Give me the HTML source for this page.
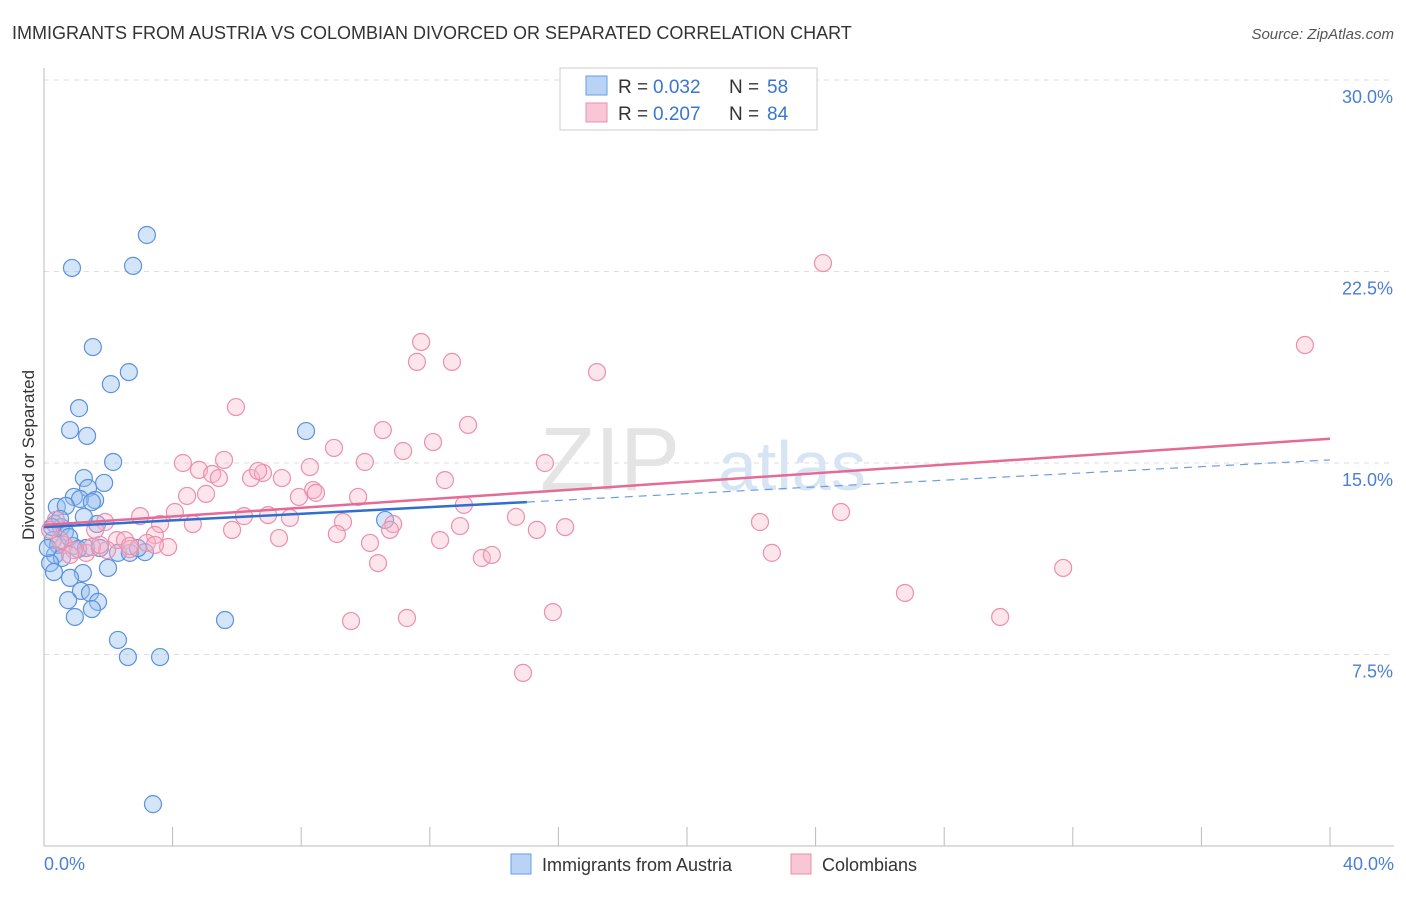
<!DOCTYPE html>
<html><head><meta charset="utf-8"><style>
body{margin:0;background:#fff;font-family:"Liberation Sans",sans-serif;}
svg text{font-family:"Liberation Sans",sans-serif;}
</style></head><body>
<svg width="1406" height="892">
<text x="12" y="39" font-size="18" fill="#333">IMMIGRANTS FROM AUSTRIA VS COLOMBIAN DIVORCED OR SEPARATED CORRELATION CHART</text>
<text x="1394" y="39" font-size="15" fill="#555" font-style="italic" text-anchor="end">Source: ZipAtlas.com</text>
<g id="grid"></g>
<text x="680" y="490" font-size="90" fill="#e4e4e4" font-family="Liberation Serif" text-anchor="end">ZIP</text>
<text x="718" y="490" font-size="70" fill="#d6e4f4">atlas</text>
<line x1="44" y1="68" x2="44" y2="846" stroke="#bbb"/>
<line x1="44" y1="846" x2="1394" y2="846" stroke="#bbb"/>
<text transform="translate(34,455) rotate(-90)" font-size="17" fill="#333" text-anchor="middle">Divorced or Separated</text>
<text x="44" y="870" font-size="18" fill="#4a7fd4">0.0%</text>
<text x="1394" y="870" font-size="18" fill="#4a7fd4" text-anchor="end">40.0%</text>
<g id="pts"></g>
<g id="lines"></g>
<rect x="560" y="68" width="257" height="62" fill="#fff" stroke="#ccc"/>
<rect x="586" y="76" width="21" height="19" fill="#b8d3f5" stroke="#6a9ee0"/>
<rect x="586" y="103" width="21" height="19" fill="#f9c6d6" stroke="#e890ac"/>
<g font-size="19">
<text x="618" y="93" fill="#333">R =</text><text x="653" y="93" fill="#3a76d0">0.032</text>
<text x="729" y="93" fill="#333">N =</text><text x="767" y="93" fill="#3a76d0">58</text></g>
<g font-size="19">
<text x="618" y="120" fill="#333">R =</text><text x="653" y="120" fill="#3a76d0">0.207</text>
<text x="729" y="120" fill="#333">N =</text><text x="767" y="120" fill="#3a76d0">84</text></g>
<rect x="511" y="854" width="20" height="20" fill="#b8d3f5" stroke="#6a9ee0"/>
<text x="542" y="871" font-size="18" fill="#333">Immigrants from Austria</text>
<rect x="791" y="854" width="20" height="20" fill="#f9c6d6" stroke="#e890ac"/>
<text x="822" y="871" font-size="18" fill="#333">Colombians</text>
</svg>
<script>
const yTicks=[7.5,15,22.5,30];
const yTickLabels=["7.5%","15.0%","22.5%","30.0%"];
const xTicks=[4,8,12,16,20,24,28,32,36,40];
const austriaPx=[[147,235],[72,268],[133,266],[93,347],[129,372],[111,384],[79,408],[70,430],[87,436],[306,431],[113,462],[84,478],[104,483],[88,488],[74,497],[80,499],[95,500],[92,502],[57,507],[66,506],[55,524],[61,527],[97,524],[84,517],[385,520],[65,532],[53,540],[58,545],[73,546],[86,548],[145,552],[118,553],[130,553],[138,548],[55,555],[62,558],[50,563],[54,572],[108,568],[83,573],[70,578],[81,591],[90,593],[68,600],[98,602],[92,609],[75,617],[225,620],[118,640],[128,657],[160,657],[153,804],[60,519],[52,527],[69,537],[78,549],[100,548],[48,548]];
const colPx=[[823,263],[1305,345],[421,342],[417,362],[452,362],[597,372],[236,407],[383,430],[468,425],[433,442],[403,451],[334,448],[183,463],[224,460],[199,470],[212,474],[219,478],[251,478],[263,473],[258,471],[282,478],[310,467],[545,463],[365,462],[445,480],[187,496],[206,494],[313,490],[299,497],[316,493],[358,497],[464,505],[140,516],[175,512],[244,516],[268,515],[290,518],[516,517],[760,522],[841,512],[193,524],[232,530],[343,522],[393,524],[460,526],[537,530],[565,527],[105,522],[160,524],[95,530],[279,538],[337,534],[390,530],[440,540],[370,543],[117,540],[125,540],[155,535],[147,543],[168,547],[130,549],[107,550],[86,553],[64,545],[74,550],[56,520],[92,547],[482,558],[492,555],[772,553],[378,563],[1063,568],[905,593],[553,612],[1000,617],[351,621],[407,618],[523,673],[130,546],[60,540],[100,545],[155,545],[50,530],[70,555]];
const toData=p=>[+((p[0]-44)/1286*40).toFixed(2),+((846-p[1])/191.5*7.5).toFixed(2)];
const austriaX=austriaPx.map(p=>toData(p)[0]), austriaY=austriaPx.map(p=>toData(p)[1]);
const colX=colPx.map(p=>toData(p)[0]), colY=colPx.map(p=>toData(p)[1]);
const austriaTrend=[[0,12.49],[15.02,13.47],[40,15.12]];
const colTrend=[[0,12.57],[40,15.95]];
const X=v=>44+v/40*1286, Y=v=>846-v/7.5*191.5;
const NS="http://www.w3.org/2000/svg";
function mk(tag,attrs,parent){const e=document.createElementNS(NS,tag);for(const k in attrs)e.setAttribute(k,attrs[k]);parent.appendChild(e);return e;}
const grid=document.getElementById('grid');
yTicks.forEach((t,i)=>{
 const l=mk('line',{x1:44,x2:1394,y1:Y(t),y2:Y(t),stroke:'#ddd','stroke-dasharray':'5,5'},grid);
 
 
 const tx=mk('text',{x:1393,y:Y(t)+23,'font-size':18,fill:'#4a7fd4','text-anchor':'end'},grid);
 tx.textContent=yTickLabels[i];
 
 
});
xTicks.forEach(t=>{
 const l=mk('line',{x1:X(t),x2:X(t),y1:827,y2:846,stroke:'#bbb'},grid);
 
 
});
const pts=document.getElementById('pts');
austriaX.forEach((x,i)=>{
 const c=mk('circle',{cx:X(x),cy:Y(austriaY[i]),r:8.5,fill:'rgba(150,190,240,0.4)',stroke:'#5b92dc','stroke-width':1.2},pts);
 
 
});
colX.forEach((x,i)=>{
 const c=mk('circle',{cx:X(x),cy:Y(colY[i]),r:8.5,fill:'rgba(248,180,200,0.35)',stroke:'#ec8fae','stroke-width':1.2},pts);
 
 
});
const lines=document.getElementById('lines');
let a=mk('line',{x1:X(austriaTrend[0][0]),y1:Y(austriaTrend[0][1]),x2:X(austriaTrend[1][0]),y2:Y(austriaTrend[1][1]),stroke:'#2f6fd0','stroke-width':2.5},lines);


let b=mk('line',{x1:X(austriaTrend[1][0]),y1:Y(austriaTrend[1][1]),x2:X(austriaTrend[2][0]),y2:Y(austriaTrend[2][1]),stroke:'#6a9ee0','stroke-width':1.2,'stroke-dasharray':'8,6'},lines);


let c=mk('line',{x1:X(colTrend[0][0]),y1:Y(colTrend[0][1]),x2:X(colTrend[1][0]),y2:Y(colTrend[1][1]),stroke:'#e56b96','stroke-width':2.5},lines);


</script>
</body></html>
